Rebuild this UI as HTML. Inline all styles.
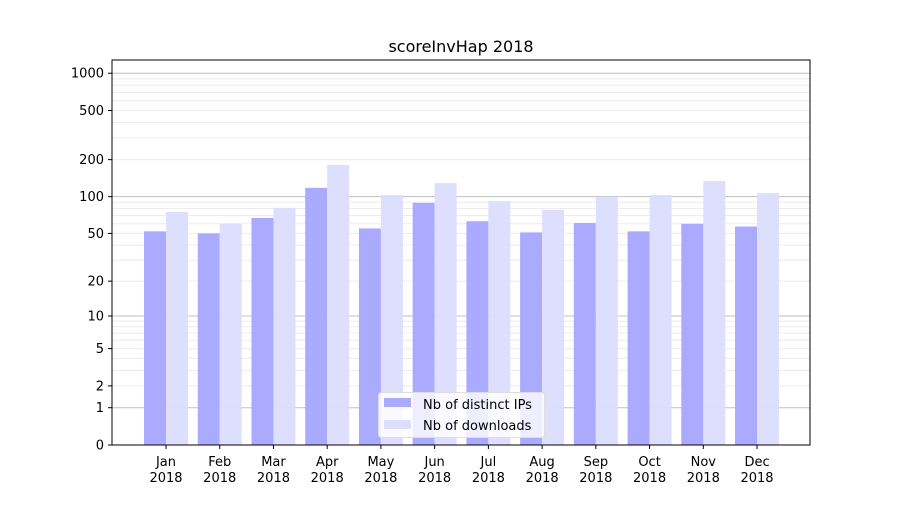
<!DOCTYPE html>
<html><head><meta charset="utf-8"><style>
body{margin:0;background:#fff;}
svg text{font-family:"DejaVu Sans","Liberation Sans",sans-serif;}
</style></head><body>
<svg id="chart" width="900" height="500" xmlns="http://www.w3.org/2000/svg">
<rect width="900" height="500" fill="#fff"/>
<text x="461" y="52" font-size="16" text-anchor="middle">scoreInvHap 2018</text>
<g id="grid"></g>
<g id="bars"></g>
<rect x="112" y="60" width="698" height="385" fill="none" stroke="#000" stroke-width="1"/>
<g id="yaxis"></g>
<g id="xaxis"></g>
<g>
<rect x="378.5" y="392.5" width="166" height="45" rx="3" fill="#fff" fill-opacity="0.8" stroke="#ddd"/>
<rect x="384" y="398" width="27" height="9" fill="#aaaaff"/>
<text x="423" y="409" font-size="13">Nb of distinct IPs</text>
<rect x="384" y="420" width="27" height="9" fill="#ddddff"/>
<text x="423" y="430" font-size="13">Nb of downloads</text>
</g>
</svg>
<script>
const months = ["Jan","Feb","Mar","Apr","May","Jun","Jul","Aug","Sep","Oct","Nov","Dec"];
const ipValues = [52,50,67,118,55,89,63,51,61,52,60,57];
const downloadValues = [75,60,81,181,103,129,92,78,99,103,134,107];
const yTicks = [0,1,2,5,10,20,50,100,200,500,1000];
const yearLabel = "2018";

const NS="http://www.w3.org/2000/svg";
function y(v){return 445-123.9*Math.log10(v+1);}
function x(i){return 166+i*53.73;}
function mk(tag,attrs,parent){const e=document.createElementNS(NS,tag);for(const k in attrs)e.setAttribute(k,attrs[k]);parent.appendChild(e);return e;}
const grid=document.getElementById('grid'),bars=document.getElementById('bars'),ya=document.getElementById('yaxis'),xa=document.getElementById('xaxis');
// grid lines
for(let d=1;d<=100;d*=10){for(let m=1;m<=9;m++){const v=d*m;const yy=y(v);
 const l=mk('line',{x1:112,x2:810,y1:yy,y2:yy,stroke:m===1?'#c0c0c0':'#ececec','stroke-width':1},grid);
 
 }}
{const yy=y(1000);const l=mk('line',{x1:112,x2:810,y1:yy,y2:yy,stroke:'#c0c0c0'},grid);
 
 }
// bars
months.forEach((m,i)=>{
 const b1=mk('rect',{x:x(i)-22,y:y(ipValues[i]),width:22,height:445-y(ipValues[i]),fill:'#aaaaff'},bars);
 
 
 const b2=mk('rect',{x:x(i),y:y(downloadValues[i]),width:22,height:445-y(downloadValues[i]),fill:'#ddddff',opacity:0.97},bars);
 
 
 const t=mk('line',{x1:x(i),x2:x(i),y1:445,y2:449,stroke:'#000'},xa);
 
 
 const lb=mk('text',{x:x(i),y:466,'font-size':13,'text-anchor':'middle'},xa);
 
 
 lb.textContent=m;
 const lb2=mk('text',{x:x(i),y:482,'font-size':13,'text-anchor':'middle'},xa);
 
 
 lb2.textContent=yearLabel;
});
yTicks.forEach(v=>{const yy=y(v);
 const t=mk('line',{x1:108,x2:112,y1:yy,y2:yy,stroke:'#000'},ya);
 
 
 const lb=mk('text',{x:104,y:yy+4.5,'font-size':13,'text-anchor':'end'},ya);
 
 
 lb.textContent=v;
});
</script>
</body></html>
